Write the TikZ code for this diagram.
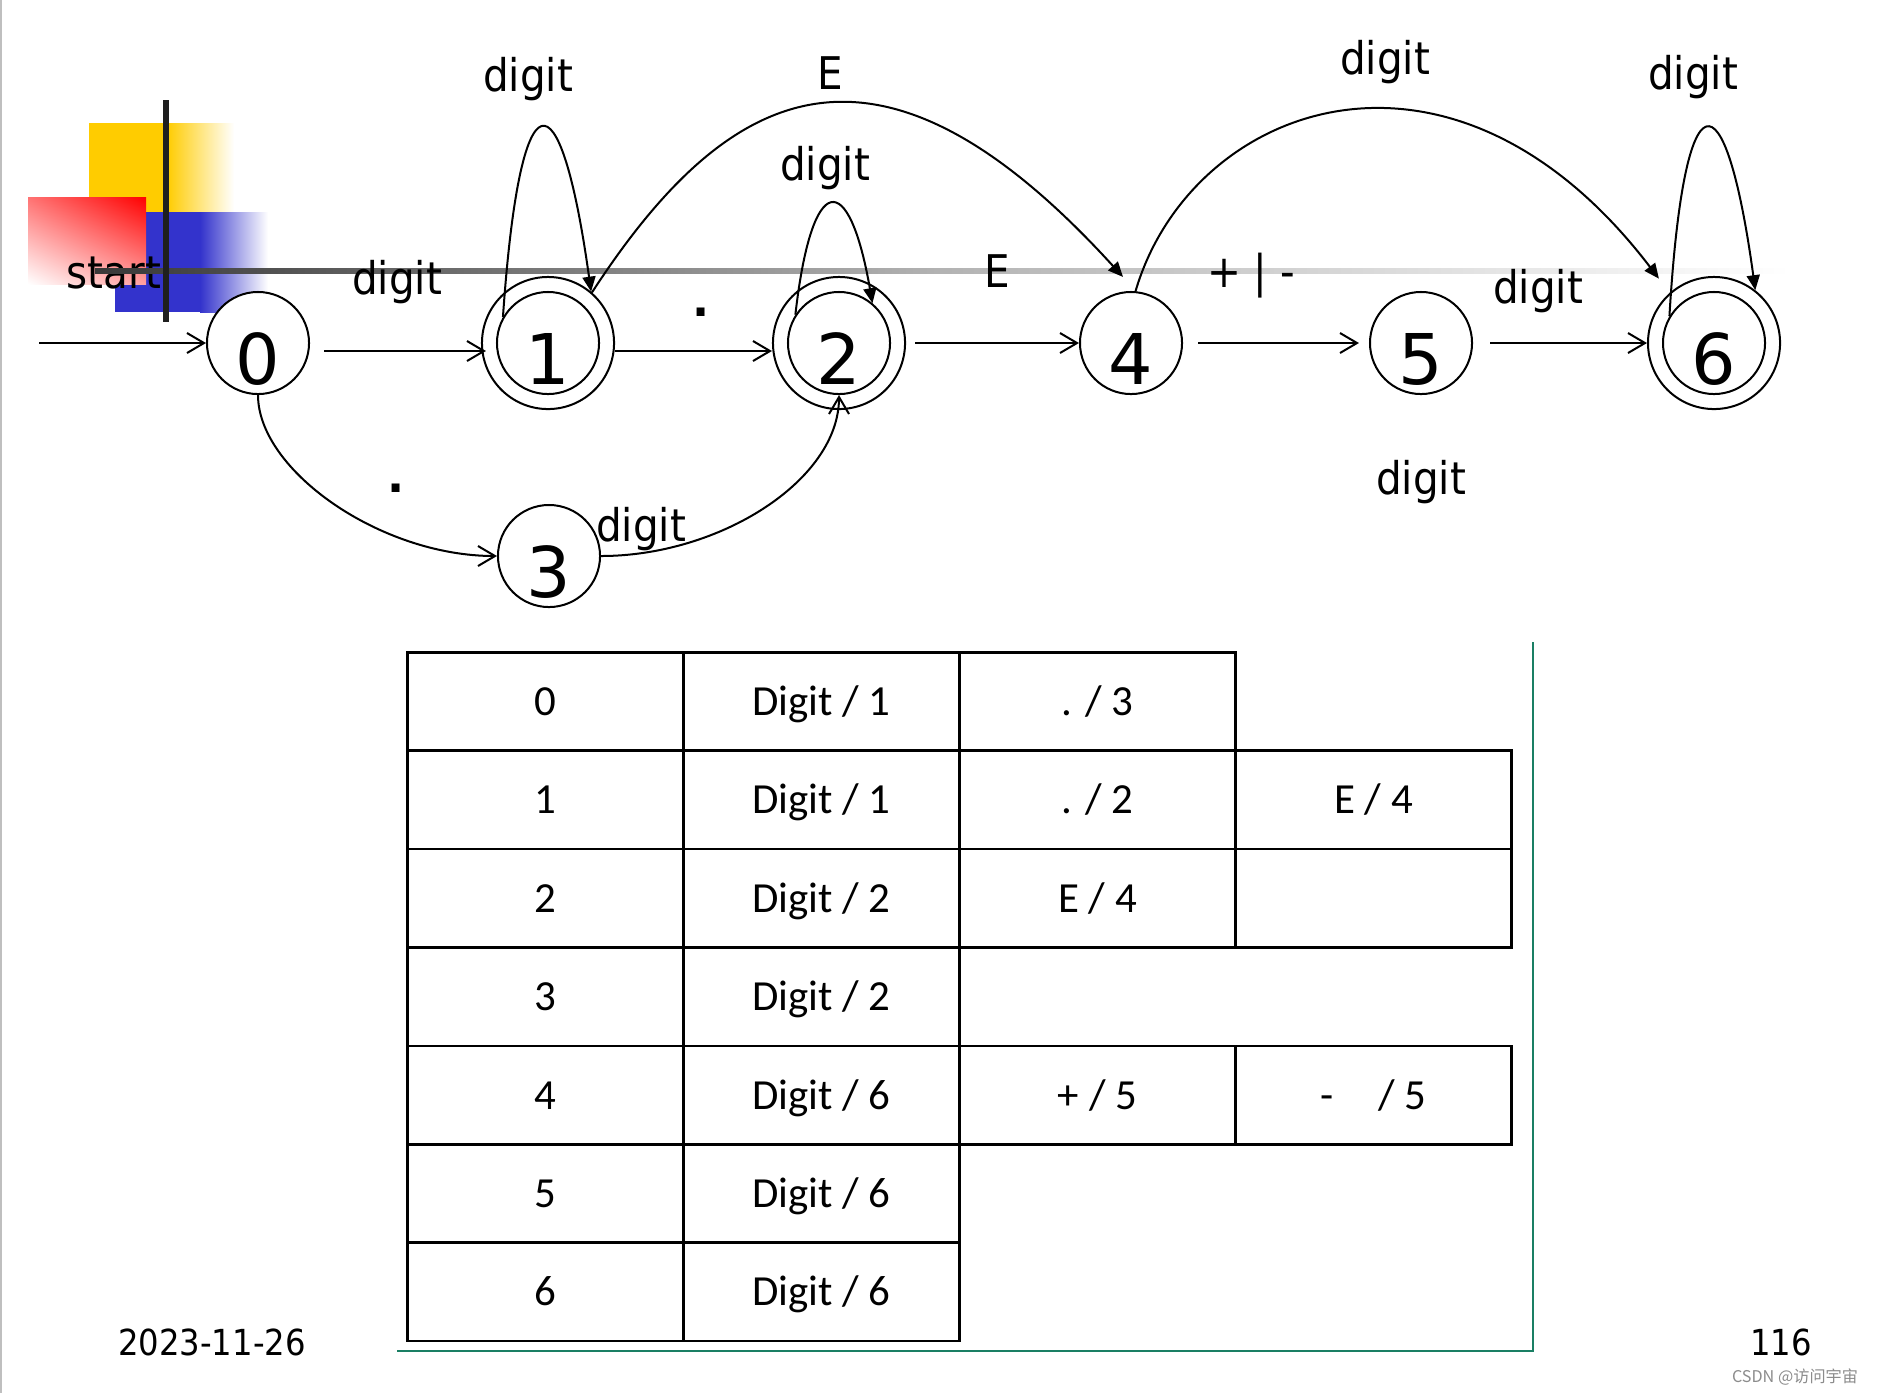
\documentclass[tikz,border=0pt]{standalone}
\usepackage{fontspec}
\setmainfont{DejaVu Sans}
\newfontfamily\condfont{DejaVu Sans Condensed}
\newfontfamily\tabfont{Carlito}
\newfontfamily\cjkfont{Noto Sans CJK SC}
\usetikzlibrary{arrows.meta,calc,shadings}
\definecolor{decoyellow}{HTML}{FFCC00}
\definecolor{decoblue}{HTML}{3333CC}
\definecolor{framegreen}{HTML}{1A7F64}

\begin{document}
\begin{tikzpicture}[x=0.01cm, y=-0.01cm,
    stnode/.style={circle, draw, fill=white, line width=0.02cm, minimum size=1.02cm, inner sep=0pt,
        font=\fontsize{19.9}{20}\selectfont, text height=0.83cm, text depth=0pt},
    ring/.style={circle, draw, line width=0.02cm, minimum size=1.32cm, inner sep=0pt},
    trans/.style={line width=0.02cm, -{Straight Barb[length=0.17cm,width=0.2cm]}},
    curvy/.style={line width=0.02cm, -{Triangle[length=0.15cm,width=0.13cm]}},
    lab/.style={anchor=base, inner sep=0pt, font=\condfont\fontsize{12.8}{15}\selectfont},
    dotlab/.style={anchor=base, inner sep=0pt, font=\bfseries\fontsize{12.8}{15}\selectfont},
    cell/.style={draw, line width=0.025cm, minimum width=2.76cm, minimum height=0.984cm, inner sep=0pt,
        text height=0.28cm, text depth=0pt, font=\tabfont\fontsize{12.2}{14}\selectfont},
    foot/.style={anchor=base, inner sep=0pt, font=\condfont\fontsize{10.2}{12}\selectfont}]
    \useasboundingbox (0,0) rectangle (1877,1393);
    \fill[white] (0,0) rectangle (1877,1393);
    \draw[black!25, line width=0.02cm] (1,0) -- (1,1393);

    % slide decoration
    \fill[decoyellow] (89,123) rectangle (167,212);
    \shade[left color=decoyellow, right color=white] (167,123) rectangle (234,212);
    \fill[decoblue] (115,212) rectangle (200,312);
    \shade[left color=decoblue, right color=white] (200,212) rectangle (268,312);
    \shade[upper right=red, lower left=white, upper left=red!55, lower right=red!38] (28,197) rectangle (146,284);
    \node[lab] (lstart) at (114,288) {start};
    \shade[left color=black!78, right color=black!30] (95,268) rectangle (940,273);
    \shade[left color=black!30, right color=white] (940,268) rectangle (1790,273);
    \fill[black!88] (163,100) rectangle (169,322);

    % states
    \node[stnode] (s0) at (258,343) {0};
    \node[stnode] (s1) at (548,343) {1};
    \node[stnode] (s2) at (839,343) {2};
    \node[stnode] (s3) at (549,556) {3};
    \node[stnode] (s4) at (1131,343) {4};
    \node[stnode] (s5) at (1421,343) {5};
    \node[stnode] (s6) at (1714,343) {6};
    \foreach \s in {1,2,6}
        \node[ring] (r\s) at (s\s.center) {};

    % transitions
    \coordinate (in) at (39,343);
    \draw[trans] (in) -- (s0.west);
    \draw[trans] ([xshift=.14cm,yshift=-.08cm]s0.east) -- ([xshift=.05cm,yshift=-.08cm]r1.west);
    \draw[trans] ([yshift=-.08cm]r1.east) -- ([yshift=-.08cm]r2.west);
    \draw[trans] ([xshift=.09cm]r2.east) -- (s4.west);
    \draw[trans] ([xshift=.15cm]s4.east) -- ([xshift=-.1cm]s5.west);
    \draw[trans] ([xshift=.17cm]s5.east) -- (r6.west);
    \draw[trans] (s0.south) .. controls (258,470) and (380,556) .. (s3.west);
    \draw[trans] (s3.east) .. controls (720,556) and (839,480) .. (s2.south);

    \draw[curvy] (s1.150) .. controls (520,69) and (560,69) .. (r1.50);
    \draw[curvy] (s2.147) .. controls (812,169) and (849,169) .. (s2.50);
    \draw[curvy] (s6.149) .. controls (1684,70) and (1725,70) .. (r6.52);
    \draw[curvy] (r1.49) .. controls (730,80) and (880,10) .. ([xshift=-.08cm,yshift=.14cm]s4.north);
    \draw[curvy] (s4.85) .. controls (1190,105) and (1450,5) .. ([xshift=-.12cm,yshift=.13cm]r6.130);

    % labels
    \node[lab] (l11) at (528,91) {digit};
    \node[lab] (l14) at (830,89) {E};
    \node[lab] (l22) at (825,180) {digit};
    \node[lab] (l01) at (397,294) {digit};
    \node[dotlab] (l12) at (701,316) {.};
    \node[dotlab] (l03) at (396,492) {.};
    \node[lab] (l32) at (641,541) {digit};
    \node[lab] (l24) at (997,287) {E};
    \node[lab] (l45) at (1251,287) {+ | -};
    \node[lab] (l46) at (1385,74) {digit};
    \node[lab] (l66) at (1693,89) {digit};
    \node[lab] (l56) at (1538,303) {digit};
    \node[lab] (l55) at (1421,494) {digit};

    % transition table
    \foreach \r/\c/\t in {0/0/0, 0/1/{Digit / 1}, 0/2/{. / 3},
        1/0/1, 1/1/{Digit / 1}, 1/2/{. / 2}, 1/3/{E / 4},
        2/0/2, 2/1/{Digit / 2}, 2/2/{E / 4}, 2/3/{},
        3/0/3, 3/1/{Digit / 2},
        4/0/4, 4/1/{Digit / 6}, 4/2/{+ / 5}, 4/3/{-\hspace{0.44cm}/ 5},
        5/0/5, 5/1/{Digit / 6},
        6/0/6, 6/1/{Digit / 6}}
        \node[cell] (t\r\c) at ({545.5+276*\c},{701.5+98.4*\r}) {\t};
    \draw[framegreen, line width=0.02cm] (1533,642) -- (1533,1351) -- (397,1351);

    % footer
    \node[foot] (date) at (212,1355) {2023-11-26};
    \node[foot] (page) at (1781,1355) {116};
    \node[anchor=base, inner sep=0pt, text=black!45, font=\cjkfont\fontsize{4.6}{5}\selectfont] (mark) at (1795,1382) {CSDN @访问宇宙};
\end{tikzpicture}
\end{document}
